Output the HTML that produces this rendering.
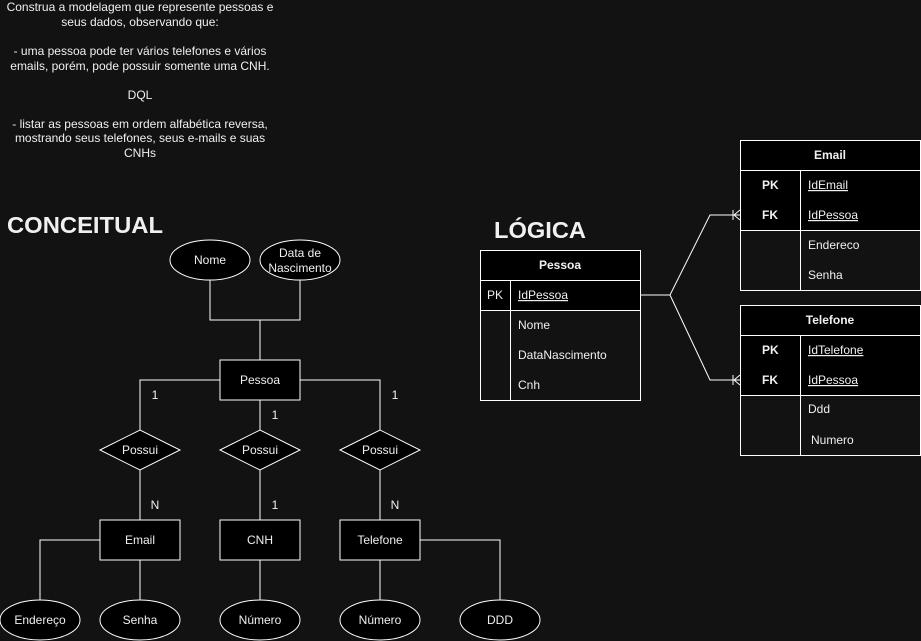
<!DOCTYPE html>
<html><head><meta charset="utf-8"><style>
html,body{margin:0;padding:0;background:#121212;}
svg{display:block;}
text{font-family:"Liberation Sans",Arial,sans-serif;fill:#f0f0f0;}
</style></head><body>
<svg width="921" height="641" viewBox="0 0 921 641" xmlns="http://www.w3.org/2000/svg">
<rect width="921" height="641" fill="#121212"/>
<g font-size="12" text-anchor="middle">
<text x="140" y="11">Construa a modelagem que represente pessoas e</text>
<text x="140" y="26">seus dados, observando que:</text>
<text x="140" y="55">- uma pessoa pode ter vários telefones e vários</text>
<text x="140" y="70">emails, porém, pode possuir somente uma CNH.</text>
<text x="140" y="99">DQL</text>
<text x="140" y="128">- listar as pessoas em ordem alfabética reversa,</text>
<text x="140" y="142">mostrando seus telefones, seus e-mails e suas</text>
<text x="140" y="157">CNHs</text>
</g>
<text x="7" y="233" font-size="23" font-weight="bold" textLength="156" lengthAdjust="spacingAndGlyphs">CONCEITUAL</text>
<text x="494" y="238" font-size="23" font-weight="bold" textLength="92" lengthAdjust="spacingAndGlyphs">LÓGICA</text>

<g stroke="#fff" stroke-width="1" fill="none">
<polyline points="210,280 210,320 300,320 300,280"/>
<line x1="260" y1="320" x2="260" y2="360"/>
<polyline points="220,380 140,380 140,430"/>
<polyline points="300,380 380,380 380,430"/>
<line x1="260" y1="400" x2="260" y2="430"/>
<line x1="140" y1="470" x2="140" y2="520"/>
<line x1="260" y1="470" x2="260" y2="520"/>
<line x1="380" y1="470" x2="380" y2="520"/>
<polyline points="100,540 40,540 40,600"/>
<line x1="140" y1="560" x2="140" y2="600"/>
<line x1="260" y1="560" x2="260" y2="600"/>
<line x1="380" y1="560" x2="380" y2="600"/>
<polyline points="420,540 500,540 500,600"/>
</g>
<g stroke="#fff" fill="#000">
<ellipse cx="210" cy="260" rx="40" ry="20"/>
<ellipse cx="300" cy="260" rx="40" ry="20"/>
<rect x="220" y="360" width="80" height="40"/>
<polygon points="100,450 140,430 180,450 140,470"/>
<polygon points="220,450 260,430 300,450 260,470"/>
<polygon points="340,450 380,430 420,450 380,470"/>
<rect x="100" y="520" width="80" height="40"/>
<rect x="220" y="520" width="80" height="40"/>
<rect x="340" y="520" width="80" height="40"/>
<ellipse cx="40" cy="620" rx="40" ry="20"/>
<ellipse cx="140" cy="620" rx="40" ry="20"/>
<ellipse cx="260" cy="620" rx="40" ry="20"/>
<ellipse cx="380" cy="620" rx="40" ry="20"/>
<ellipse cx="500" cy="620" rx="40" ry="20"/>
</g>
<g font-size="12" text-anchor="middle">
<text x="210" y="264">Nome</text>
<text x="300" y="257">Data de</text>
<text x="300" y="272">Nascimento</text>
<text x="260" y="384">Pessoa</text>
<text x="140" y="454">Possui</text>
<text x="260" y="454">Possui</text>
<text x="380" y="454">Possui</text>
<text x="140" y="544">Email</text>
<text x="260" y="544">CNH</text>
<text x="380" y="544">Telefone</text>
<text x="40" y="624">Endereço</text>
<text x="140" y="624">Senha</text>
<text x="260" y="624">Número</text>
<text x="380" y="624">Número</text>
<text x="500" y="624">DDD</text>
<text x="155" y="399">1</text>
<text x="275" y="419">1</text>
<text x="395" y="399">1</text>
<text x="155" y="509">N</text>
<text x="275" y="509">1</text>
<text x="395" y="509">N</text>
</g>

<g stroke="#fff">
<rect x="480.5" y="250.5" width="160" height="150" fill="#121212"/>
<rect x="480.5" y="250.5" width="160" height="30" fill="#000"/>
<rect x="480.5" y="280.5" width="160" height="30" fill="#000"/>
<line x1="510.5" y1="280" x2="510.5" y2="400"/>
<rect x="740.5" y="140.5" width="180" height="150" fill="#121212"/>
<rect x="740.5" y="140.5" width="180" height="30" fill="#000"/>
<rect x="740.5" y="170.5" width="180" height="60" fill="#000"/>
<line x1="800.5" y1="170" x2="800.5" y2="290"/>
<rect x="740.5" y="305.5" width="180" height="150" fill="#121212"/>
<rect x="740.5" y="305.5" width="180" height="30" fill="#000"/>
<rect x="740.5" y="335.5" width="180" height="60" fill="#000"/>
<line x1="800.5" y1="335" x2="800.5" y2="455"/>
</g>
<g stroke="#fff" fill="none">
<polyline points="641,295 670,295 710,215 740,215"/>
<polyline points="670,295 710,380 740,380"/>
<line x1="733" y1="210" x2="733" y2="220"/>
<polyline points="740,210 734,215 740,220"/>
<line x1="733" y1="375" x2="733" y2="385"/>
<polyline points="740,375 734,380 740,385"/>
</g>
<g font-size="12">
<text x="560" y="269" text-anchor="middle" font-weight="bold">Pessoa</text>
<text x="487" y="299">PK</text>
<text x="518" y="299" text-decoration="underline">IdPessoa</text>
<text x="518" y="329">Nome</text>
<text x="518" y="359">DataNascimento</text>
<text x="518" y="389">Cnh</text>
<text x="830" y="159" text-anchor="middle" font-weight="bold">Email</text>
<text x="762" y="189" font-weight="bold">PK</text>
<text x="808" y="189" text-decoration="underline">IdEmail</text>
<text x="762" y="219" font-weight="bold">FK</text>
<text x="808" y="219" text-decoration="underline">IdPessoa</text>
<text x="808" y="249">Endereco</text>
<text x="808" y="279">Senha</text>
<text x="830" y="324" text-anchor="middle" font-weight="bold">Telefone</text>
<text x="762" y="354" font-weight="bold">PK</text>
<text x="808" y="354" text-decoration="underline">IdTelefone</text>
<text x="762" y="384" font-weight="bold">FK</text>
<text x="808" y="384" text-decoration="underline">IdPessoa</text>
<text x="808" y="413">Ddd</text>
<text x="811" y="444">Numero</text>
</g>
</svg>
</body></html>
